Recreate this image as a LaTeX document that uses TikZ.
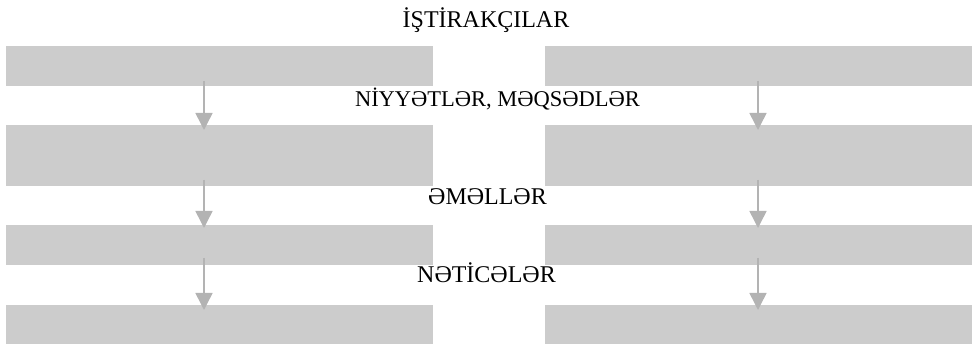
\documentclass[tikz,border=0pt]{standalone}
\usepackage{fontspec}
\setmainfont{Liberation Serif}
\usetikzlibrary{arrows.meta}
\definecolor{boxgray}{HTML}{CCCCCC}
\definecolor{arrgray}{HTML}{B3B3B3}
\tikzset{
  box/.style={fill=boxgray, draw=none, inner sep=0pt, anchor=north west},
  lbl/.style={font=\fontsize{24}{26}\selectfont, anchor=base, inner sep=0pt},
  flow/.style={draw=arrgray, line width=1.5pt, -{Triangle[width=17pt,length=17pt]}}
}
\begin{document}
\begin{tikzpicture}[x=1pt, y=-1pt]
\useasboundingbox (0,0) rectangle (972,344);
% boxes
\node[box, minimum width=427pt, minimum height=40pt] (L1) at (6,46) {};
\node[box, minimum width=427pt, minimum height=40pt] (R1) at (545,46) {};
\node[box, minimum width=427pt, minimum height=61pt] (L2) at (6,125) {};
\node[box, minimum width=427pt, minimum height=61pt] (R2) at (545,125) {};
\node[box, minimum width=427pt, minimum height=40pt] (L3) at (6,225) {};
\node[box, minimum width=427pt, minimum height=40pt] (R3) at (545,225) {};
\node[box, minimum width=427pt, minimum height=39pt] (L4) at (6,305) {};
\node[box, minimum width=427pt, minimum height=39pt] (R4) at (545,305) {};
% labels
\node[lbl] (t0) at (486,27.7) {İŞTİRAKÇILAR};
\node[lbl, font=\fontsize{22.5}{24}\selectfont] (t1) at (497.5,107) {NİYYƏTLƏR, MƏQSƏDLƏR};
\node[lbl] (t2) at (487.5,205) {ƏMƏLLƏR};
\node[lbl] (t3) at (486.5,283) {NƏTİCƏLƏR};
% arrow anchors
\coordinate (la1) at (204,81);  \coordinate (lb1) at (204,130);
\coordinate (ra1) at (758,81);  \coordinate (rb1) at (758,130);
\coordinate (la2) at (204,180); \coordinate (lb2) at (204,228);
\coordinate (ra2) at (758,180); \coordinate (rb2) at (758,228);
\coordinate (la3) at (204,258); \coordinate (lb3) at (204,310);
\coordinate (ra3) at (758,258); \coordinate (rb3) at (758,310);
\draw[flow] (la1) -- (lb1);
\draw[flow] (ra1) -- (rb1);
\draw[flow] (la2) -- (lb2);
\draw[flow] (ra2) -- (rb2);
\draw[flow] (la3) -- (lb3);
\draw[flow] (ra3) -- (rb3);
\end{tikzpicture}
\end{document}
